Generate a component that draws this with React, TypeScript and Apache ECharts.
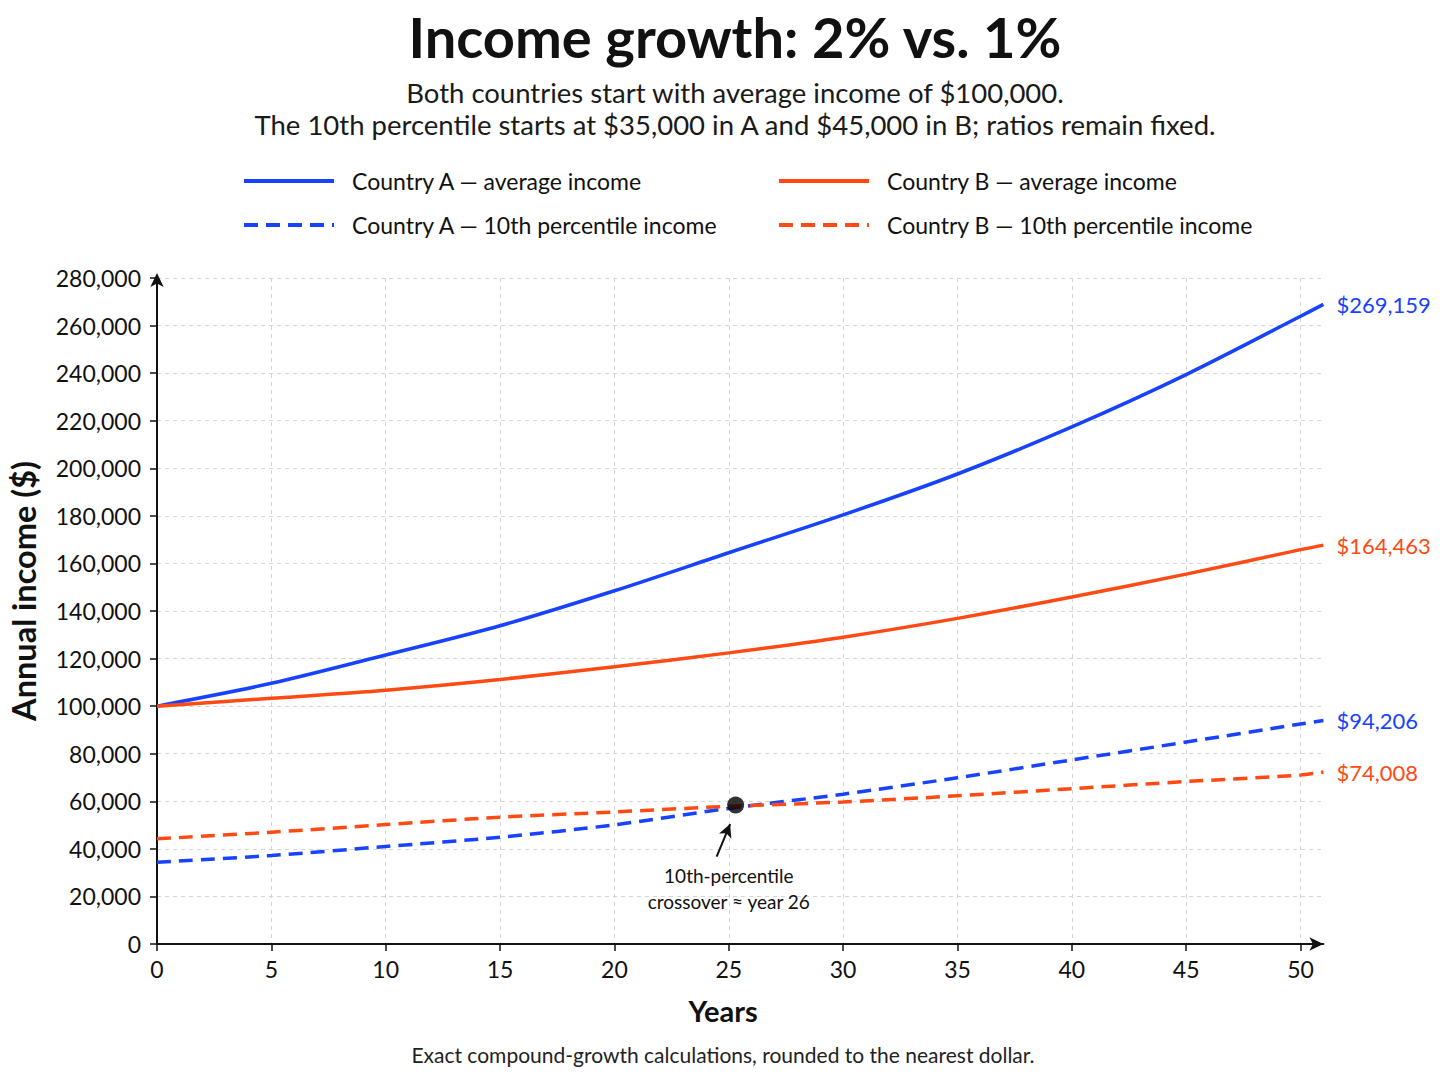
import React, { useEffect, useRef } from "react";
import * as echarts from "echarts";

// ---- data ----
const years = [0, 5, 10, 15, 20, 25, 30, 35, 40, 45, 50, 51];
const avgA = [100000, 109600, 121500, 133800, 148500, 164500, 180400, 197600, 217400, 239400, 263900, 268900];
const avgB = [100000, 103300, 106700, 111200, 116600, 122400, 129000, 136900, 145900, 155500, 165800, 167700];
const p10A = [34400, 37200, 41000, 44900, 50100, 57000, 63000, 69900, 77400, 84900, 92500, 94000];
const p10B = [44200, 47000, 50200, 53300, 55500, 57900, 59700, 62300, 65300, 68300, 71000, 72300];

const seriesNames = [
  "Country A — average income",
  "Country B — average income",
  "Country A — 10th percentile income",
  "Country B — 10th percentile income",
];
const endLabels = ["$269,159", "$164,463", "$94,206", "$74,008"];
const xTicks = [0, 5, 10, 15, 20, 25, 30, 35, 40, 45, 50];

const crossoverPoint = [25.3, 58400];
const arrowFrom = [24.47, 36700];
const arrowTo = [25.06, 50400];
const annotationAt = [25.0, 23300];
const annotationText = "10th-percentile\ncrossover ≈ year 26";

const titleText = "Income growth: 2% vs. 1%";
const subtitleText =
  "Both countries start with average income of $100,000.\nThe 10th percentile starts at $35,000 in A and $45,000 in B; ratios remain fixed.";
const footnoteText = "Exact compound-growth calculations, rounded to the nearest dollar.";

const BLUE = "#1742ff";
const ORANGE = "#ff4a14";
const INK = "#111111";
const FONT = "Lato, 'Noto Sans', 'DejaVu Sans', sans-serif";

function lineSeries(idx: number, ys: number[], color: string, dashed: boolean) {
  return {
    type: "line",
    name: seriesNames[idx],
    data: years.map((x, i) => [x, ys[i]]),
    smooth: 0.3,
    symbol: "none",
    showSymbol: false,
    lineStyle: { color, width: 3.5, type: dashed ? [14, 8] : "solid" },
    itemStyle: { color },
    endLabel: {
      show: true,
      formatter: endLabels[idx],
      color,
      fontSize: 22,
      fontFamily: FONT,
      distance: 13,
    },
    emphasis: { disabled: true },
    z: 3,
  };
}

export default function App() {
  const ref = useRef<HTMLDivElement>(null);

  useEffect(() => {
    if (!ref.current) return;
    const chart = echarts.init(ref.current, null, { renderer: "svg" });

    const legendPos = [
      { left: 242, top: 167 },
      { left: 777, top: 167 },
      { left: 242, top: 211 },
      { left: 777, top: 211 },
    ];

    const option: any = {
      animation: false,
      backgroundColor: "#ffffff",
      title: [
        {
          text: titleText,
          subtext: subtitleText,
          left: 735,
          top: 6,
          textAlign: "center",
          padding: 0,
          itemGap: 10,
          textStyle: {
            fontFamily: FONT,
            fontSize: 56,
            fontWeight: "bold",
            color: INK,
            lineHeight: 60,
          },
          subtextStyle: {
            fontFamily: FONT,
            fontSize: 27.5,
            color: "#1a1a1a",
            lineHeight: 32,
          },
        },
        {
          text: footnoteText,
          left: 723,
          top: 1042,
          textAlign: "center",
          padding: 0,
          textStyle: {
            fontFamily: FONT,
            fontSize: 21,
            fontWeight: "normal",
            color: "#222",
            lineHeight: 24,
          },
        },
      ],
      legend: seriesNames.map((name, i) => ({
        data: [name],
        left: legendPos[i].left,
        top: legendPos[i].top,
        padding: 0,
        itemWidth: 90,
        itemHeight: 14,
        selectedMode: false,
        itemStyle: { opacity: 0 },
        lineStyle: { width: 4 },
        textStyle: {
          fontFamily: FONT,
          fontSize: 23,
          color: INK,
          lineHeight: 28,
          padding: [0, 0, 0, 13],
        },
      })),
      grid: {
        left: 157,
        right: 124.6,
        top: 278,
        bottom: 142,
        containLabel: false,
        outerBoundsMode: "none",
      },
      xAxis: {
        type: "value",
        min: 0,
        max: 51,
        name: "Years",
        nameLocation: "middle",
        nameGap: 52,
        nameTextStyle: {
          fontFamily: FONT,
          fontSize: 29,
          fontWeight: "bold",
          color: INK,
          padding: [0, 34, 0, 0],
        },
        axisLine: {
          show: true,
          onZero: false,
          lineStyle: { color: INK, width: 2 },
          symbol: ["none", "arrow"],
          symbolSize: [10, 14],
        },
        axisTick: {
          show: true,
          length: 7,
          lineStyle: { color: INK, width: 1.5 },
          customValues: xTicks,
        },
        axisLabel: {
          customValues: xTicks,
          margin: 13,
          fontFamily: FONT,
          fontSize: 23,
          color: INK,
        },
        splitLine: {
          show: true,
          lineStyle: { color: "#d4d4d4", width: 1, type: [4, 4] },
        },
      },
      yAxis: {
        type: "value",
        min: 0,
        max: 280000,
        interval: 20000,
        name: "Annual income ($)",
        nameLocation: "middle",
        nameGap: 117,
        nameRotate: 90,
        nameTextStyle: {
          fontFamily: FONT,
          fontSize: 32.5,
          fontWeight: "bold",
          color: INK,
          padding: [0, 0, 0, 40],
        },
        axisLine: {
          show: true,
          onZero: false,
          lineStyle: { color: INK, width: 2 },
          symbol: ["none", "arrow"],
          symbolSize: [10, 14],
          symbolOffset: [0, 5],
        },
        axisTick: {
          show: true,
          length: 7,
          lineStyle: { color: INK, width: 1.5 },
        },
        axisLabel: {
          margin: 16,
          fontFamily: FONT,
          fontSize: 23,
          color: INK,
          formatter: (v: number) => v.toLocaleString("en-US"),
        },
        splitLine: {
          show: true,
          lineStyle: { color: "#d4d4d4", width: 1, type: [4, 4] },
        },
      },
      series: [
        lineSeries(0, avgA, BLUE, false),
        lineSeries(1, avgB, ORANGE, false),
        lineSeries(2, p10A, BLUE, true),
        lineSeries(3, p10B, ORANGE, true),
        {
          type: "scatter",
          name: "crossover",
          data: [crossoverPoint],
          symbolSize: 17,
          itemStyle: { color: "#000" },
          z: 10,
          silent: true,
          emphasis: { disabled: true },
          markLine: {
            silent: true,
            symbol: ["none", "arrow"],
            symbolSize: [10, 13],
            lineStyle: { color: INK, width: 2, type: "solid" },
            label: { show: false },
            emphasis: { disabled: true },
            data: [[{ coord: arrowFrom }, { coord: arrowTo }]],
          },
          markPoint: {
            silent: true,
            symbol: "rect",
            symbolSize: 1,
            itemStyle: { color: "rgba(0,0,0,0)" },
            label: {
              show: true,
              position: "inside",
              formatter: annotationText,
              fontFamily: FONT,
              fontSize: 19,
              lineHeight: 26,
              color: INK,
              align: "center",
            },
            data: [{ coord: annotationAt }],
          },
        },
      ],
    };

    chart.setOption(option);
    return () => chart.dispose();
  }, []);

  return (
    <div
      ref={ref}
      style={{ position: "fixed", left: 0, top: 0, width: 1448, height: 1086, background: "#fff" }}
    />
  );
}
